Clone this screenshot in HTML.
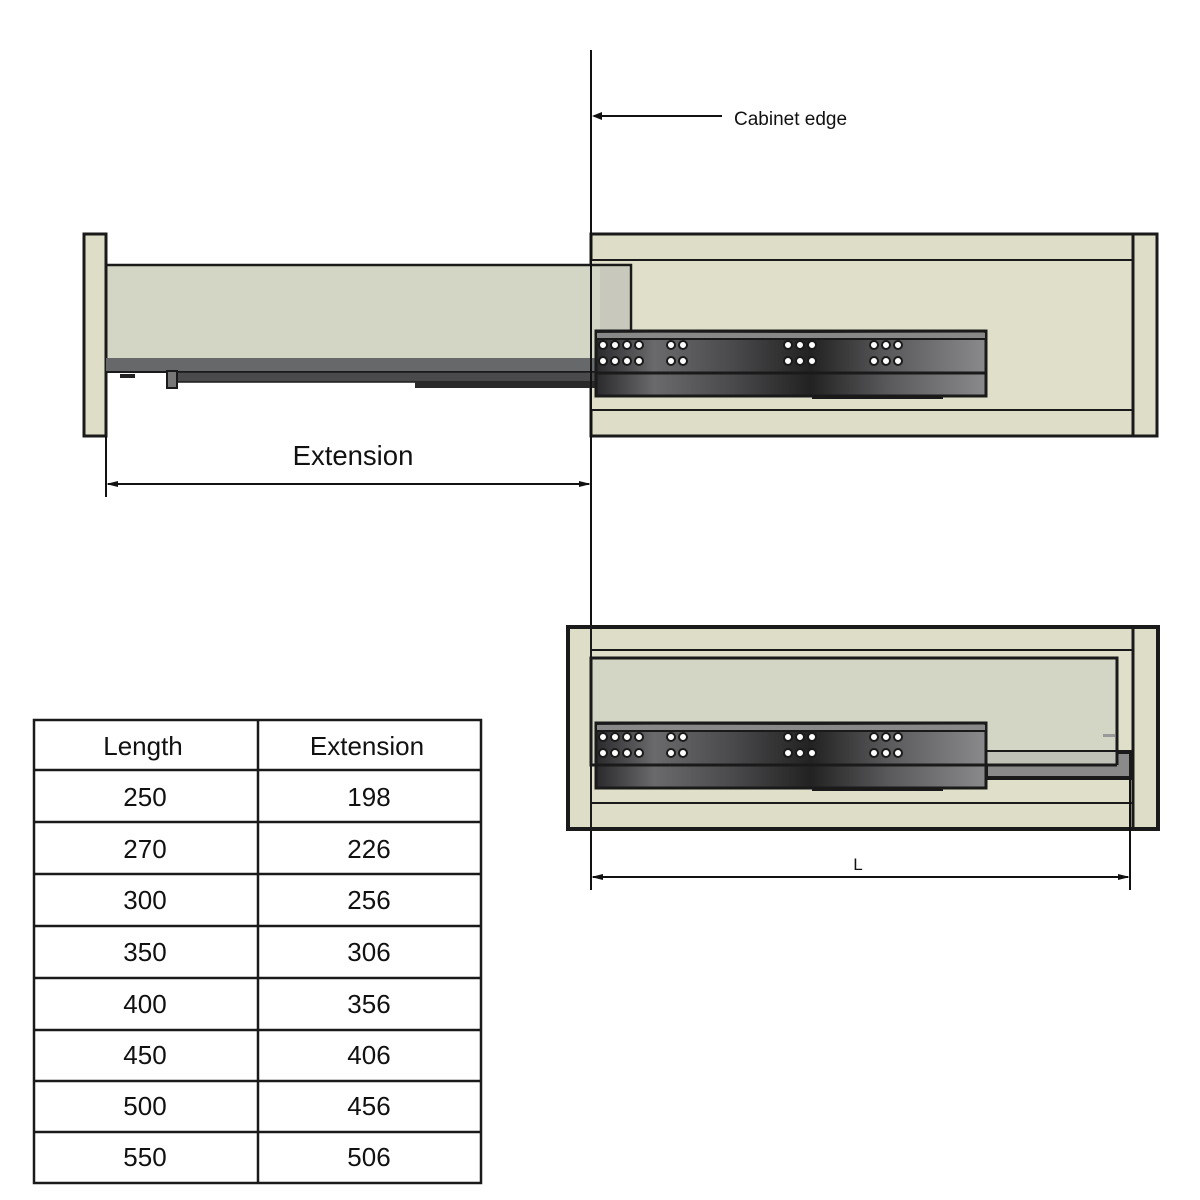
<!DOCTYPE html>
<html><head><meta charset="utf-8"><style>
html,body{margin:0;padding:0;background:#fff;}
svg{display:block;}
text{font-family:"Liberation Sans",sans-serif;fill:#111;}
</style></head><body>
<svg width="1200" height="1200" viewBox="0 0 1200 1200" xmlns="http://www.w3.org/2000/svg">
<defs>
<linearGradient id="sg" x1="0" x2="1" y1="0" y2="0">
<stop offset="0" stop-color="#2a2a2c"/><stop offset="0.15" stop-color="#6a6a6c"/><stop offset="0.35" stop-color="#4a4a4c"/><stop offset="0.55" stop-color="#222"/><stop offset="0.75" stop-color="#5a5a5c"/><stop offset="1" stop-color="#8a8a8c"/>
</linearGradient>
<g id="slide">
<rect x="596" y="331" width="390" height="65" fill="url(#sg)" stroke="#1a1a1a" stroke-width="3"/>
<rect x="597" y="333" width="388" height="6" fill="#888"/>
<line x1="596" y1="339" x2="986" y2="339" stroke="#1a1a1a" stroke-width="2"/>
<line x1="596" y1="373" x2="986" y2="373" stroke="#1a1a1a" stroke-width="3"/>
<rect x="812" y="395" width="131" height="4" fill="#1a1a1a"/>
<g fill="#fff" stroke="#1a1a1a" stroke-width="2">
<circle cx="603" cy="345" r="4"/><circle cx="615" cy="345" r="4"/><circle cx="627" cy="345" r="4"/><circle cx="639" cy="345" r="4"/>
<circle cx="671" cy="345" r="4"/><circle cx="683" cy="345" r="4"/>
<circle cx="788" cy="345" r="4"/><circle cx="800" cy="345" r="4"/><circle cx="812" cy="345" r="4"/>
<circle cx="874" cy="345" r="4"/><circle cx="886" cy="345" r="4"/><circle cx="898" cy="345" r="4"/>
<circle cx="603" cy="361" r="4"/><circle cx="615" cy="361" r="4"/><circle cx="627" cy="361" r="4"/><circle cx="639" cy="361" r="4"/>
<circle cx="671" cy="361" r="4"/><circle cx="683" cy="361" r="4"/>
<circle cx="788" cy="361" r="4"/><circle cx="800" cy="361" r="4"/><circle cx="812" cy="361" r="4"/>
<circle cx="874" cy="361" r="4"/><circle cx="886" cy="361" r="4"/><circle cx="898" cy="361" r="4"/>
</g>
</g>
</defs>

<rect x="591" y="234" width="566" height="202" fill="#dedec8" stroke="#1a1a1a" stroke-width="3"/>
<rect x="591" y="260" width="542" height="150" fill="#e0e0ca" stroke="#1a1a1a" stroke-width="2"/>
<line x1="1133" y1="234" x2="1133" y2="436" stroke="#1a1a1a" stroke-width="3"/>
<rect x="106" y="265" width="525" height="100" fill="#d3d6c4" stroke="#1a1a1a" stroke-width="2.5"/>
<rect x="600" y="267" width="29" height="64" fill="#c8c8bc"/>
<rect x="84" y="234" width="22" height="202" fill="#dedec8" stroke="#1a1a1a" stroke-width="3"/>
<rect x="106" y="358" width="490" height="14" fill="#66686a"/>
<line x1="106" y1="372" x2="596" y2="372" stroke="#1a1a1a" stroke-width="2"/>
<rect x="177" y="372" width="419" height="10" fill="#4a4a4c" stroke="#1a1a1a" stroke-width="1.5"/>
<rect x="415" y="381" width="181" height="7" fill="#2a2a2a"/>
<rect x="167" y="371" width="10" height="17" fill="#777" stroke="#1a1a1a" stroke-width="2"/>
<rect x="120" y="374" width="15" height="4" fill="#222"/>
<use href="#slide"/>

<line x1="591" y1="50" x2="591" y2="890" stroke="#111" stroke-width="2"/>
<line x1="594" y1="116" x2="722" y2="116" stroke="#111" stroke-width="2"/>
<polygon points="592,116 602,112 602,120" fill="#111"/>
<text x="734" y="125" font-size="19">Cabinet edge</text>

<line x1="106" y1="436" x2="106" y2="497" stroke="#111" stroke-width="2"/>
<line x1="108" y1="484" x2="589" y2="484" stroke="#111" stroke-width="2"/>
<polygon points="106,484 118,481 118,487" fill="#111"/>
<polygon points="591,484 579,481 579,487" fill="#111"/>
<text x="353" y="465" font-size="27.5" text-anchor="middle">Extension</text>

<rect x="568" y="627" width="590" height="202" fill="#dedec8" stroke="#1a1a1a" stroke-width="4"/>
<rect x="591" y="650" width="542" height="153" fill="#e0e0ca" stroke="#1a1a1a" stroke-width="2"/>
<line x1="1133" y1="627" x2="1133" y2="829" stroke="#1a1a1a" stroke-width="3"/>
<line x1="591" y1="627" x2="591" y2="829" stroke="#1a1a1a" stroke-width="2"/>
<rect x="591" y="658" width="526" height="107" fill="#d3d6c4" stroke="#1a1a1a" stroke-width="3"/>
<rect x="986" y="752" width="145" height="26" fill="#8a8a8a" stroke="#1a1a1a" stroke-width="4"/>
<rect x="986" y="752" width="131" height="12" fill="#c0c2b8"/>
<line x1="986" y1="765" x2="1117" y2="765" stroke="#1a1a1a" stroke-width="3"/>
<line x1="1117" y1="658" x2="1117" y2="765" stroke="#1a1a1a" stroke-width="3"/>
<rect x="1103" y="734" width="12" height="3" fill="#999"/>
<use href="#slide" transform="translate(0,392)"/>

<line x1="1130" y1="780" x2="1130" y2="890" stroke="#111" stroke-width="2"/>
<line x1="593" y1="877" x2="1128" y2="877" stroke="#111" stroke-width="2"/>
<polygon points="591,877 603,874 603,880" fill="#111"/>
<polygon points="1130,877 1118,874 1118,880" fill="#111"/>
<text x="858" y="870" font-size="17" text-anchor="middle">L</text>

<g stroke="#1a1a1a" stroke-width="2.5" fill="none">
<rect x="34" y="720" width="447" height="463"/>
<line x1="258" y1="720" x2="258" y2="1183"/>
<line x1="34" y1="770" x2="481" y2="770"/>
<line x1="34" y1="822" x2="481" y2="822"/>
<line x1="34" y1="874" x2="481" y2="874"/>
<line x1="34" y1="926" x2="481" y2="926"/>
<line x1="34" y1="978" x2="481" y2="978"/>
<line x1="34" y1="1030" x2="481" y2="1030"/>
<line x1="34" y1="1081" x2="481" y2="1081"/>
<line x1="34" y1="1132" x2="481" y2="1132"/>
</g>
<g font-size="26" text-anchor="middle">
<text x="143" y="755">Length</text><text x="367" y="755">Extension</text>
<text x="145" y="806">250</text><text x="369" y="806">198</text>
<text x="145" y="858">270</text><text x="369" y="858">226</text>
<text x="145" y="909">300</text><text x="369" y="909">256</text>
<text x="145" y="961">350</text><text x="369" y="961">306</text>
<text x="145" y="1013">400</text><text x="369" y="1013">356</text>
<text x="145" y="1064">450</text><text x="369" y="1064">406</text>
<text x="145" y="1115">500</text><text x="369" y="1115">456</text>
<text x="145" y="1166">550</text><text x="369" y="1166">506</text>
</g>
</svg>
</body></html>
